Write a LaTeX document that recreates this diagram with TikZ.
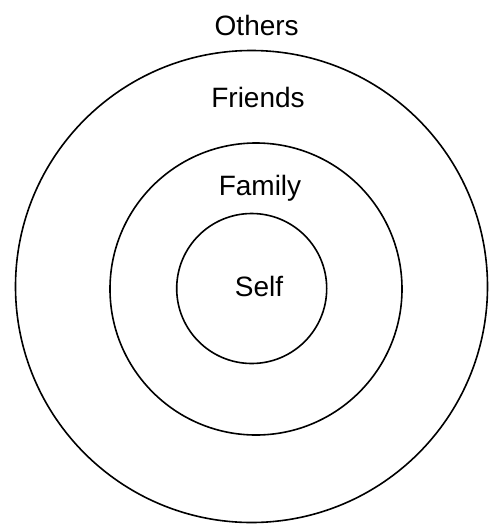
\documentclass[tikz,border=0pt]{standalone}
\usepackage{fontspec}
\setmainfont{Liberation Sans}
\begin{document}
\begin{tikzpicture}[x=1pt,y=-1pt,
  ring/.style={circle,draw=black,line width=1.6pt,inner sep=0pt,minimum size=#1},
  lbl/.style={anchor=base,inner sep=0pt,font=\fontsize{28}{30}\selectfont}]
\useasboundingbox[fill=white] (0,0) rectangle (489,531);
\node[ring=472pt] (outer) at (251.5,286.5) {};
\node[ring=292pt] (middle) at (256,289) {};
\node[ring=150pt] (inner) at (251.7,288.5) {};
\node[lbl] (others) at (256.7,35) {Others};
\node[lbl] (friends) at (258,107) {Friends};
\node[lbl] (family) at (260,195) {Family};
\node[lbl] (self) at (259,296.7) {Self};
\end{tikzpicture}
\end{document}
